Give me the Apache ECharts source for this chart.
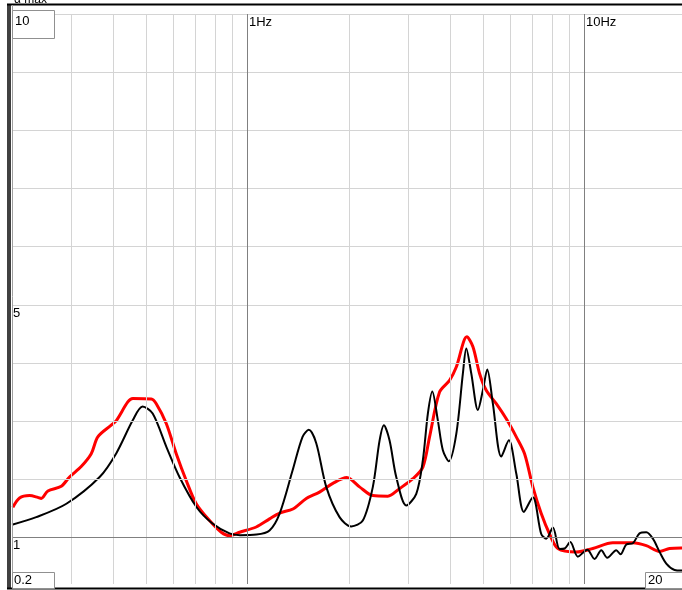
<!DOCTYPE html>
<html>
<head>
<meta charset="utf-8">
<script src="https://cdn.jsdelivr.net/npm/echarts@6/dist/echarts.min.js"></script>
<style>
html,body{margin:0;padding:0;background:#fff;overflow:hidden;}
#c{width:690px;height:590px;}
</style>
</head>
<body>
<div id="c"></div>
<script>
// ---- data ----
const blackFreq = [0.2,0.236,0.29,0.364,0.408,0.456,0.488,0.523,0.575,0.628,0.706,0.787,0.884,0.95,1.063,1.162,1.245,1.36,1.456,1.52,1.599,1.712,1.875,2.031,2.198,2.354,2.465,2.538,2.638,2.762,2.958,3.167,3.313,3.428,3.533,3.671,3.798,3.957,4.163,4.355,4.457,4.612,4.825,4.992,5.145,5.345,5.659,5.962,6.272,6.605,7.024,7.438,7.697,8.055,8.433,8.727,9.072,9.553,10.19,10.71,11.21,11.68,12.42,12.79,13.3,13.91,14.56,15.25,15.95,16.7,17.48,18.5,19.36,20];
const blackVal  = [1.22,1.35,1.58,2.04,2.45,3.01,3.25,3.13,2.55,2.04,1.52,1.24,1.07,1.04,1.05,1.12,1.41,2.15,2.73,2.85,2.62,1.87,1.35,1.19,1.29,1.87,2.67,2.93,2.67,2.04,1.55,1.75,2.33,3.13,3.51,3.01,2.50,2.31,2.78,3.82,4.25,3.82,3.19,3.53,3.89,3.30,2.39,2.67,2.10,1.44,1.69,1.06,0.98,1.17,0.80,0.81,0.92,0.67,0.79,0.63,0.78,0.65,0.78,0.71,0.88,0.90,1.07,1.09,0.98,0.75,0.55,0.44,0.43,0.43];
const redFreq = [0.2012,0.2106,0.2255,0.2385,0.2442,0.2556,0.2801,0.2963,0.3209,0.3437,0.3595,0.3939,0.408,0.4413,0.4566,0.5179,0.5359,0.5738,0.6143,0.6577,0.7042,0.7714,0.8355,0.884,0.947,1.061,1.162,1.245,1.363,1.494,1.635,1.791,1.971,2.149,2.354,2.608,2.825,3.094,3.313,3.468,3.713,3.976,4.163,4.475,4.664,4.88,5.108,5.47,5.857,6.272,6.637,7.024,7.438,7.872,8.334,9.449,10.58,12.13,13.91,15.25,16.7,17.87,19.36,20];
const redVal  = [1.52,1.68,1.72,1.69,1.67,1.80,1.88,2.04,2.22,2.44,2.73,2.93,3.01,3.33,3.39,3.38,3.30,2.96,2.44,1.98,1.58,1.29,1.09,1.03,1.09,1.18,1.32,1.42,1.49,1.67,1.78,1.93,2.03,1.87,1.72,1.71,1.84,2.01,2.21,2.73,3.50,3.70,3.93,4.45,4.28,3.82,3.53,3.30,3.04,2.73,2.44,1.87,1.41,1.06,0.81,0.75,0.81,0.91,0.91,0.86,0.76,0.81,0.82,0.82];
const xMinorGrid = [0.3,0.4,0.5,0.6,0.7,0.8,0.9,2,3,4,5,6,7,8,9];
const xMajorGrid = [1,10];
const yMinorGrid = [2,3,4,5,6,7,8,9,10];
const yMajorGrid = [1];
const xMin = 0.2, xMax = 20, yMin = 0.2, yMax = 10;

const pairs = (xs, ys) => xs.map((x, i) => [x, ys[i]]);

const chart = echarts.init(document.getElementById('c'), null, {renderer: 'canvas'});
const font = '"Liberation Sans", "DejaVu Sans", sans-serif';
const gridLine = (arr, axis, color) => arr.map(v => ({[axis]: v, lineStyle: {color: color, width: 1, type: 'solid'}}));

chart.setOption({
  animation: false,
  backgroundColor: '#fff',
  grid: {left: 12, top: 14, width: 674, height: 570, containLabel: false},
  xAxis: {type: 'log', logBase: 10, min: xMin, max: xMax,
    axisLine: {show: false}, axisTick: {show: false}, axisLabel: {show: false}, splitLine: {show: false}},
  yAxis: {type: 'value', min: yMin, max: yMax,
    axisLine: {show: false}, axisTick: {show: false}, axisLabel: {show: false}, splitLine: {show: false}},
  series: [
    {type: 'line', data: [], silent: true,
      markLine: {silent: true, symbol: ['none', 'none'], animation: false, label: {show: false},
        data: [].concat(
          gridLine(xMinorGrid, 'xAxis', '#d4d4d4'),
          gridLine(yMinorGrid, 'yAxis', '#d4d4d4'),
          gridLine(xMajorGrid, 'xAxis', '#808080'),
          gridLine(yMajorGrid, 'yAxis', '#808080')
        )}},
    {type: 'line', data: pairs(redFreq, redVal), showSymbol: false, smooth: 0.3,
      lineStyle: {color: '#ff0000', width: 3}, clip: true, z: 3},
    {type: 'line', data: pairs(blackFreq, blackVal), showSymbol: false, smooth: 0.3,
      lineStyle: {color: '#000000', width: 2}, clip: true, z: 4}
  ],
  graphic: [
    // frame
    {type: 'line', shape: {x1: 7, y1: 4.5, x2: 690, y2: 4.5}, style: {stroke: '#000', lineWidth: 2}, z: 10},
    {type: 'line', shape: {x1: 8, y1: 4, x2: 8, y2: 589}, style: {stroke: '#000', lineWidth: 1.5}, z: 10},
    {type: 'line', shape: {x1: 10, y1: 4, x2: 10, y2: 589}, style: {stroke: '#000', lineWidth: 1.5}, z: 10},
    {type: 'line', shape: {x1: 12.5, y1: 5, x2: 12.5, y2: 588}, style: {stroke: '#a0a0a0', lineWidth: 1}, z: 10},
    {type: 'line', shape: {x1: 7, y1: 588.5, x2: 690, y2: 588.5}, style: {stroke: '#000', lineWidth: 2}, z: 10},
    {type: 'text', left: 14, top: -6, style: {text: 'α max', font: '12px ' + font, fill: '#000'}, z: 11},
    // value boxes
    {type: 'rect', shape: {x: 12.5, y: 10.5, width: 42, height: 28}, style: {fill: '#fff', stroke: '#909090', lineWidth: 1}, z: 12},
    {type: 'text', left: 15, top: 15, style: {text: '10', font: '13px ' + font, fill: '#000'}, z: 13},
    {type: 'rect', shape: {x: 12.5, y: 572.5, width: 42, height: 16}, style: {fill: '#fff', stroke: '#909090', lineWidth: 1}, z: 12},
    {type: 'text', left: 14, top: 574, style: {text: '0.2', font: '13px ' + font, fill: '#000'}, z: 13},
    {type: 'rect', shape: {x: 645.5, y: 572.5, width: 44, height: 16}, style: {fill: '#fff', stroke: '#909090', lineWidth: 1}, z: 12},
    {type: 'text', left: 648, top: 574, style: {text: '20', font: '13px ' + font, fill: '#000'}, z: 13},
    // axis texts
    {type: 'text', left: 249, top: 16, style: {text: '1Hz', font: '13px ' + font, fill: '#000'}, z: 13},
    {type: 'text', left: 586, top: 16, style: {text: '10Hz', font: '13px ' + font, fill: '#000'}, z: 13},
    {type: 'text', left: 13, top: 307, style: {text: '5', font: '13px ' + font, fill: '#000'}, z: 13},
    {type: 'text', left: 13, top: 539, style: {text: '1', font: '13px ' + font, fill: '#000'}, z: 13}
  ]
});
</script>
</body>
</html>
